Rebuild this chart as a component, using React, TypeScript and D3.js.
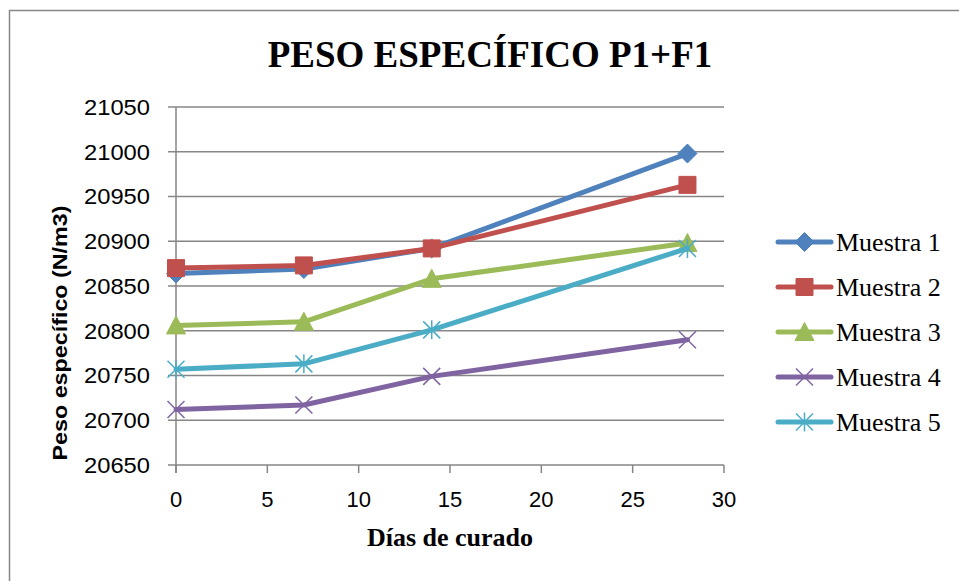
import React from 'react';
import * as d3 from 'd3';

const days = [0, 7, 14, 28];
const muestra1 = [20864, 20869, 20892, 20998];
const muestra2 = [20870, 20873, 20892, 20963];
const muestra3 = [20806, 20810, 20858, 20898];
const muestra4 = [20712, 20717, 20749, 20790];
const muestra5 = [20757, 20763, 20801, 20892];
const seriesNames = ['Muestra 1', 'Muestra 2', 'Muestra 3', 'Muestra 4', 'Muestra 5'];
const seriesColors = ['#4F81BD', '#C0504D', '#9BBB59', '#8064A2', '#4BACC6'];
const xTicks = [0, 5, 10, 15, 20, 25, 30];
const yTicks = [20650, 20700, 20750, 20800, 20850, 20900, 20950, 21000, 21050];

const W = 959;
const H = 581;
const margin = { left: 176, right: 724, top: 107, bottom: 465 };

// marker path centred on 0,0
const markerPath = (i: number, s: number): string => {
  const h = s / 2;
  switch (i) {
    case 0:
      return `M0,${-h - 1}L${h + 1},0L0,${h + 1}L${-h - 1},0Z`;
    case 1:
      return `M${-h},${-h}H${h}V${h}H${-h}Z`;
    case 2:
      return `M0,${-h - 1}L${h + 1},${h}L${-h - 1},${h}Z`;
    case 3:
      return `M${-h},${-h}L${h},${h}M${h},${-h}L${-h},${h}`;
    default:
      return `M${-h},${-h}L${h},${h}M${h},${-h}L${-h},${h}M0,${-h - 1}V${h + 1}`;
  }
};

const App: React.FC = () => {
  const series = [muestra1, muestra2, muestra3, muestra4, muestra5];
  const x = d3.scaleLinear().domain([0, 30]).range([margin.left, margin.right]);
  const y = d3.scaleLinear().domain([20650, 21050]).range([margin.bottom, margin.top]);
  const line = d3
    .line<number>()
    .x((_, i) => x(days[i]))
    .y((d) => y(d));

  const gridColor = '#868686';
  const sans = "'Liberation Sans', Arial, sans-serif";
  const serif = "'Liberation Serif', 'Times New Roman', serif";

  return (
    <svg
      width={W}
      height={H}
      viewBox={`0 0 ${W} ${H}`}
      style={{ position: 'absolute', left: 0, top: 0, background: '#fff' }}
    >
      <rect x={0} y={0} width={W} height={H} fill="#fff" />
      {/* chart frame (only left and top visible) */}
      <path d={`M9.5,${H}V10.5H${W}`} fill="none" stroke="#878787" strokeWidth={1.5} />

      <text
        x={490}
        y={67}
        textAnchor="middle"
        fontFamily={serif}
        fontWeight="bold"
        fontSize={37}
        fill="#000"
      >
        PESO ESPECÍFICO P1+F1
      </text>

      {/* grid */}
      {yTicks.map((t) => (
        <line
          key={'g' + t}
          x1={margin.left - 8}
          x2={margin.right}
          y1={y(t)}
          y2={y(t)}
          stroke={gridColor}
          strokeWidth={1.5}
        />
      ))}
      {/* y axis */}
      <line x1={x(0)} x2={x(0)} y1={margin.top} y2={margin.bottom + 8} stroke={gridColor} strokeWidth={1.5} />
      {xTicks.map((t) => (
        <line
          key={'xt' + t}
          x1={x(t)}
          x2={x(t)}
          y1={margin.bottom}
          y2={margin.bottom + 8}
          stroke={gridColor}
          strokeWidth={1.5}
        />
      ))}
      {yTicks.map((t) => (
        <text
          key={'yl' + t}
          x={150}
          y={y(t)}
          dy="0.36em"
          textAnchor="end"
          fontFamily={sans}
          fontSize={22}
          textLength={66}
          lengthAdjust="spacingAndGlyphs"
          fill="#000"
        >
          {t}
        </text>
      ))}
      {xTicks.map((t) => (
        <text
          key={'xl' + t}
          x={x(t)}
          y={507}
          textAnchor="middle"
          fontFamily={sans}
          fontSize={22}
          fill="#000"
        >
          {t}
        </text>
      ))}

      <text
        x={450}
        y={546}
        textAnchor="middle"
        fontFamily={serif}
        fontWeight="bold"
        fontSize={26}
        fill="#000"
      >
        Días de curado
      </text>
      <text
        transform={`translate(67,333) rotate(-90)`}
        textAnchor="middle"
        fontFamily={sans}
        fontWeight="bold"
        fontSize={20}
        textLength={255}
        lengthAdjust="spacingAndGlyphs"
        fill="#000"
      >
        Peso específico (N/m3)
      </text>

      {/* series */}
      {series.map((vals, si) => (
        <g key={'s' + si}>
          <path
            d={line(vals) || ''}
            fill="none"
            stroke={seriesColors[si]}
            strokeWidth={5}
            strokeLinejoin="round"
            strokeLinecap="round"
          />
          {vals.map((v, i) => (
            <path
              key={i}
              transform={`translate(${x(days[i])},${y(v)})`}
              d={markerPath(si, 17)}
              fill={si >= 3 ? 'none' : seriesColors[si]}
              stroke={seriesColors[si]}
              strokeWidth={si >= 3 ? 1.5 : 1}
            />
          ))}
        </g>
      ))}

      {/* legend */}
      {seriesNames.map((name, si) => {
        const cy = 242 + si * 45;
        return (
          <g key={'l' + si}>
            <line
              x1={778}
              x2={831}
              y1={cy}
              y2={cy}
              stroke={seriesColors[si]}
              strokeWidth={5}
              strokeLinecap="round"
            />
            <path
              transform={`translate(804.5,${cy})`}
              d={markerPath(si, 17)}
              fill={si >= 3 ? 'none' : seriesColors[si]}
              stroke={seriesColors[si]}
              strokeWidth={si >= 3 ? 1.5 : 1}
            />
            <text
              x={836}
              y={cy}
              dy="0.33em"
              fontFamily={serif}
              fontSize={26}
              fill="#000"
            >
              {name}
            </text>
          </g>
        );
      })}
    </svg>
  );
};

export default App;
